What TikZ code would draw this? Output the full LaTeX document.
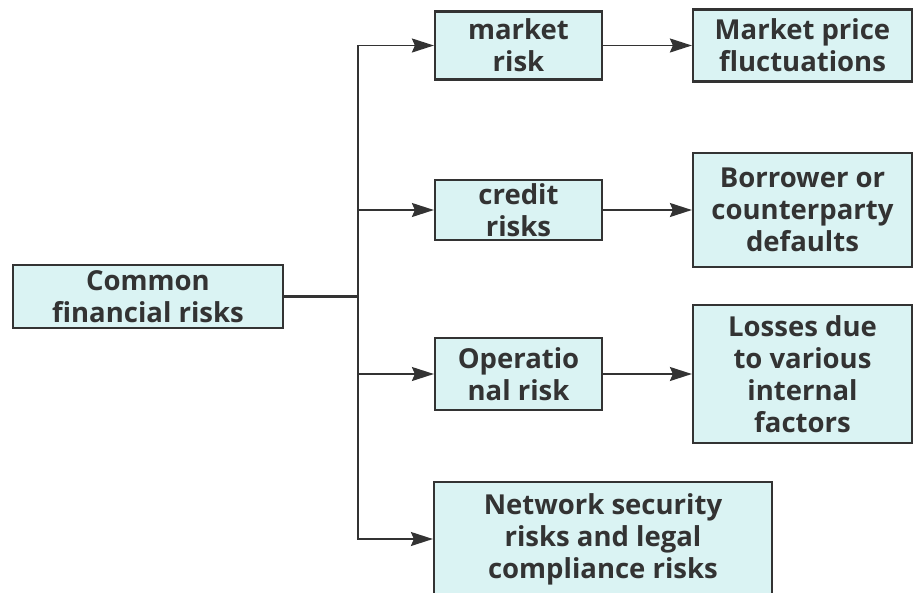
\documentclass[tikz,border=0pt]{standalone}
\usepackage{fontspec}
\setmainfont{Open Sans}
\usetikzlibrary{arrows.meta, positioning}
\definecolor{boxfill}{HTML}{DAF3F3}
\definecolor{ink}{HTML}{333333}

\begin{document}
\begin{tikzpicture}[
  x=1pt, y=-1pt,
  font=\fontsize{27.5}{32}\selectfont\bfseries,
  risk/.style={rectangle, draw=ink, fill=boxfill, line width=2.2pt, text=ink, align=center, inner sep=0pt},
  link/.style={draw=ink, line width=1.8pt},
  arrow/.style={link, -{Stealth[length=22pt, width=14pt, inset=3pt]}}
]
\useasboundingbox (0,0) rectangle (913,592);

% root and its split point
\node[risk, minimum width=270pt, minimum height=63pt] (common) at (148,296.5) {Common\\financial risks};
\coordinate (split) at (358,296.5);

% kinds of risk
\node[risk, minimum width=167pt, minimum height=68pt] (market) at (518.5,45.5) {market\\risk};
\node[risk, minimum width=167pt, minimum height=60pt] (credit) at (518.5,210) {credit\\risks};
\node[risk, minimum width=167pt, minimum height=72pt] (oper) at (518.5,374) {Operatio\\nal risk};
\node[risk, minimum width=338pt, minimum height=114pt] (network) at (603,539) {Network security\\risks and legal\\compliance risks};

% what each one means
\node[risk, minimum width=219pt, minimum height=72pt] (fluct) at (802.5,45.5) {Market price\\fluctuations};
\node[risk, minimum width=219pt, minimum height=114pt] (default) at (802.5,210) {Borrower or\\counterparty\\defaults};
\node[risk, minimum width=219pt, minimum height=138pt] (losses) at (802.5,374) {Losses due\\to various\\internal\\factors};

\draw[link, line width=2.6pt] (common) -- (split);
\draw[arrow] (split) |- (market);
\draw[arrow] (split) |- (credit);
\draw[arrow] (split) |- (oper);
\draw[arrow] (split) |- (network);

\draw[arrow] (market) -- (fluct);
\draw[arrow] (credit) -- (default);
\draw[arrow] (oper) -- (losses);

\end{tikzpicture}
\end{document}
